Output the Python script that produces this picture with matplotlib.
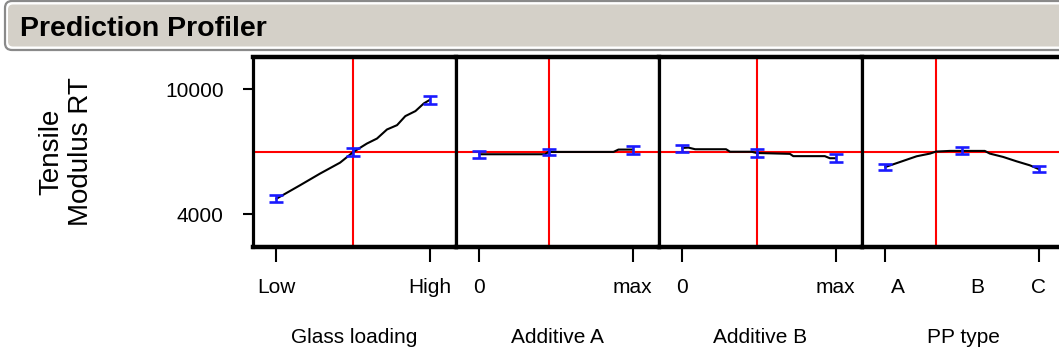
import matplotlib
matplotlib.use("Agg")
import matplotlib.pyplot as plt
from matplotlib.patches import FancyBboxPatch

plt.rcParams['font.family'] = ['Liberation Sans', 'DejaVu Sans']

###############################################################################
#                                    DATA                                     #
###############################################################################
response_label = "Tensile\nModulus RT"
response_now = 6990
y_ticks = [4000, 10000]

factor_names = ["Glass loading", "Additive A", "Additive B", "PP type"]
factor_now = [0.5, 0.455, 0.485, 0.33]
tick_labels = [["Low", "High"], ["0", "max"], ["0", "max"], ["A", "B", "C"]]

# profile traces (coded x 0..1)
glass_x = [0, 0.153, 0.284, 0.416, 0.503, 0.591, 0.657, 0.722, 0.788, 0.842, 0.908, 0.963, 1.0]
glass_y = [4754, 5392, 5952, 6480, 6992, 7392, 7632, 8064, 8272, 8704, 8944, 9312, 9472]

addA_x = [0, 0.429, 0.451, 0.876, 0.908, 1.0]
addA_y = [6880, 6880, 6992, 6992, 7104, 7104]

addB_x = [0, 0.039, 0.083, 0.285, 0.311, 0.452, 0.485, 0.702, 0.724, 0.930, 0.963, 1.0]
addB_y = [7180, 7200, 7120, 7120, 7000, 7000, 6940, 6900, 6790, 6790, 6690, 6690]

pp_x = [0, 0.096, 0.204, 0.291, 0.330, 0.421, 0.649, 0.682, 0.769, 0.856, 0.943, 1.0]
pp_y = [6272, 6512, 6784, 6912, 7008, 7040, 7040, 6912, 6752, 6544, 6352, 6176]

# confidence bars at the levels
glass_bar_x = [0, 0.5, 1]
glass_bar_y = [4754, 6990, 9480]
glass_bar_e = [180, 180, 180]

addA_bar_x = [0, 0.455, 1]
addA_bar_y = [6870, 6992, 7070]
addA_bar_e = [180, 130, 185]

addB_bar_x = [0, 0.485, 1]
addB_bar_y = [7150, 6930, 6710]
addB_bar_e = [185, 185, 180]

pp_bar_x = [0, 0.5, 1]
pp_bar_y = [6272, 7056, 6176]
pp_bar_e = [130, 180, 130]

traces = [(glass_x, glass_y), (addA_x, addA_y), (addB_x, addB_y), (pp_x, pp_y)]
bars = [(glass_bar_x, glass_bar_y, glass_bar_e),
        (addA_bar_x, addA_bar_y, addA_bar_e),
        (addB_bar_x, addB_bar_y, addB_bar_e),
        (pp_bar_x, pp_bar_y, pp_bar_e)]

###############################################################################
#                                   FIGURE                                    #
###############################################################################
W, H = 1059, 353
fig = plt.figure(figsize=(W / 100, H / 100), dpi=100)

# title bar (pixel coords converted to inches)
def px(x, y):
    return x / 100, (H - y) / 100

x0, y0 = px(5, 50)
outer = FancyBboxPatch((x0, y0), 10.70 - x0, 0.49,
                       boxstyle="round,pad=0,rounding_size=0.07",
                       transform=fig.dpi_scale_trans, facecolor="white",
                       edgecolor="#8a8a8a", linewidth=1.6)
fig.patches.append(outer)
x1, y1 = px(8, 46.5)
inner = FancyBboxPatch((x1, y1), 10.67 - x1, 0.42,
                       boxstyle="round,pad=0,rounding_size=0.05",
                       transform=fig.dpi_scale_trans, facecolor="#d4d0c8",
                       edgecolor="none")
fig.patches.append(inner)
tx, ty = px(20, 36)
fig.text(tx, ty, "Prediction Profiler", transform=fig.dpi_scale_trans,
         fontsize=20.5, fontweight="bold", ha="left", va="baseline")

# response label
fig.text(66 / W, 1 - 152 / H, response_label, rotation=90, ha="center",
         va="center", fontsize=20, multialignment="center", linespacing=1.2)

lefts = [253, 456, 659, 862]
pw = 203
top, bottom = 57, 246.5
xlim = (-0.153, 1.173)
ylim = (2470, 11530)

tick_len, tick_pad = 11, 12

for i, left in enumerate(lefts):
    ax = fig.add_axes([left / W, (H - bottom) / H, pw / W, (bottom - top) / H])
    ax.set_xlim(*xlim)
    ax.set_ylim(*ylim)
    for side in ["top", "bottom"]:
        ax.spines[side].set_linewidth(3.2)
    for side in ["left", "right"]:
        ax.spines[side].set_linewidth(2.3)
    for s in ax.spines.values():
        s.set_color("black")
        s.set_zorder(5)

    # red crosshair
    ax.axhline(response_now, color="red", lw=1.5, zorder=1)
    ax.axvline(factor_now[i], color="red", lw=1.5, zorder=1)

    # profile trace
    tx_, ty_ = traces[i]
    ax.plot(tx_, ty_, color="black", lw=1.5, zorder=2)

    bx, by, be = bars[i]
    ax.errorbar(bx, by, yerr=be, fmt="none", ecolor="#1a1aff", elinewidth=1.9,
                capsize=5, capthick=1.9, zorder=3)

    # y axis only on the first panel
    if i == 0:
        ax.set_yticks(y_ticks)
        ax.set_yticklabels([str(v) for v in y_ticks])
        ax.tick_params(axis="y", length=7.2, width=1.5, pad=14, labelsize=15)
    else:
        ax.set_yticks([])

    ax.tick_params(axis="x", which="major", length=tick_len, width=1.5,
                   pad=tick_pad, labelsize=15)
    if i < 3:
        ax.set_xticks([0, 1])
        ax.set_xticklabels(tick_labels[i])
    else:
        ax.set_xticks([0, 1])
        ax.set_xticklabels(["", tick_labels[i][2]])
        ax.set_xticks([0.083, 0.598], minor=True)
        ax.set_xticklabels(tick_labels[i][:2], minor=True)
        ax.tick_params(axis="x", which="minor", length=0,
                       pad=tick_len + tick_pad, labelsize=15)

    ax.set_xlabel(factor_names[i], fontsize=15, labelpad=22)

fig.savefig("out.png", dpi=100)
